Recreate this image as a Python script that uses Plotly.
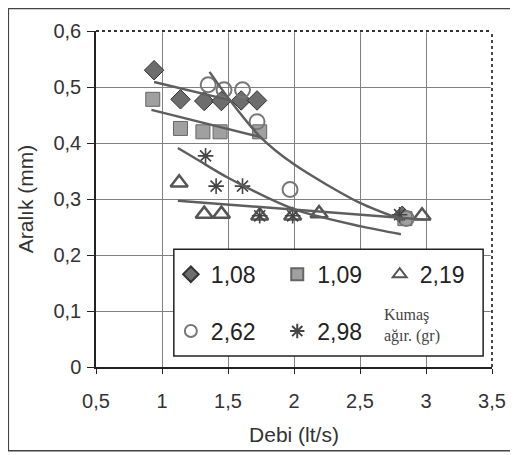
import plotly.graph_objects as go

# ---- data ----
x_108 = [0.94, 1.14, 1.32, 1.45, 1.60, 1.72, 2.82]
y_108 = [0.530, 0.478, 0.475, 0.475, 0.476, 0.476, 0.270]

x_109 = [0.93, 1.14, 1.31, 1.44, 1.74, 2.84]
y_109 = [0.478, 0.426, 0.420, 0.420, 0.420, 0.265]

x_219 = [1.13, 1.32, 1.45, 1.74, 1.99, 2.19, 2.97]
y_219 = [0.329, 0.273, 0.273, 0.270, 0.270, 0.274, 0.270]

x_262 = [1.35, 1.47, 1.61, 1.72, 1.97, 2.85]
y_262 = [0.504, 0.495, 0.495, 0.438, 0.317, 0.265]

x_298 = [1.33, 1.41, 1.61, 1.74, 1.99, 2.80]
y_298 = [0.377, 0.323, 0.323, 0.270, 0.270, 0.272]

# trend lines
t108_x = [0.94, 1.52]
t108_y = [0.509, 0.476]
t109_x = [0.92, 1.74]
t109_y = [0.459, 0.411]
t219_x = [1.12, 3.00]
t219_y = [0.297, 0.263]
t262_x = [1.36, 1.51, 1.74, 2.00, 2.50, 2.83]
t262_y = [0.527, 0.478, 0.412, 0.362, 0.293, 0.262]
t298_x = [1.12, 1.27, 1.50, 2.01, 2.51, 2.81]
t298_y = [0.391, 0.370, 0.338, 0.281, 0.251, 0.237]

labels = ["1,08", "1,09", "2,19", "2,62", "2,98"]
legend_note = "Kumaş<br>ağır. (gr)"

x_ticks = [0.5, 1, 1.5, 2, 2.5, 3, 3.5]
y_ticks = [0, 0.1, 0.2, 0.3, 0.4, 0.5, 0.6]

fig = go.Figure()

marker_styles = [
    dict(symbol="diamond", size=15, color="#6d6d6d", line=dict(color="#333333", width=1)),
    dict(symbol="square", size=14, color="#a0a0a0", line=dict(color="#666666", width=1)),
    dict(symbol="triangle-up-open", size=15, color="#555555", line=dict(color="#555555", width=2.5)),
    dict(symbol="circle-open", size=15, color="#777777", line=dict(color="#777777", width=2)),
    dict(symbol="asterisk-open", size=13, color="#444444", line=dict(color="#444444", width=1.6)),
]
series = [(x_108, y_108), (x_109, y_109), (x_219, y_219), (x_262, y_262), (x_298, y_298)]
legend_ids = ["legend", "legend2", "legend3", "legend4", "legend5"]

for (xs, ys), lab, ms, lg in zip(series, labels, marker_styles, legend_ids):
    fig.add_trace(go.Scatter(x=xs, y=ys, mode="markers", name=lab,
                             marker=ms, legend=lg, showlegend=True))

for tx, ty in [(t108_x, t108_y), (t109_x, t109_y), (t219_x, t219_y),
               (t262_x, t262_y), (t298_x, t298_y)]:
    fig.add_trace(go.Scatter(x=tx, y=ty, mode="lines", showlegend=False,
                             line=dict(color="#5e5e5e", width=2.4, shape="spline", smoothing=0.8),
                             hoverinfo="skip"))

# page has an 8px body margin: the figure is drawn 8px in from the window edge
OFF = 8
W, H = 518 - OFF, 455 - OFF
# plot area in window pixels: x 96..498, y 31..368
PL, PR, PT, PB = 96, 498, 31, 368
ml, mt = PL - OFF, PT - OFF
mr = W - (PR - OFF)
mb = H - (PB - OFF)
pw, ph = PR - PL, PB - PT

def px_x(p):
    return (p - PL) / pw

def px_y(p):
    return (PB - p) / ph

leg_font = dict(family="Liberation Sans, Arial, sans-serif", size=23, color="#222222")
leg_common = dict(bgcolor="rgba(0,0,0,0)", borderwidth=0, font=leg_font,
                  itemsizing="constant", xanchor="left", yanchor="middle")
legend_pos = [(172, 275), (280, 275), (384, 275), (172, 332), (280, 332)]
leg_layout = {}
for lg, (lx, ly) in zip(legend_ids, legend_pos):
    leg_layout[lg] = dict(x=px_x(lx), y=px_y(ly), **leg_common)

shapes = [
    # outer frame (right side runs off the page)
    dict(type="rect", xref="paper", yref="paper",
         x0=px_x(7), x1=px_x(540), y0=px_y(452), y1=px_y(8.5),
         line=dict(color="#444444", width=1.5), fillcolor="rgba(0,0,0,0)", layer="above"),
    # top / right borders (dotted)
    dict(type="line", xref="paper", yref="paper", x0=0, x1=1, y0=1, y1=1,
         line=dict(color="white", width=2.5), layer="above"),
    dict(type="line", xref="paper", yref="paper", x0=1, x1=1, y0=0, y1=1,
         line=dict(color="white", width=2.5), layer="above"),
    dict(type="line", xref="paper", yref="paper", x0=0, x1=1, y0=1, y1=1,
         line=dict(color="#333333", width=1.8, dash="dot"), layer="above"),
    dict(type="line", xref="paper", yref="paper", x0=1, x1=1, y0=0, y1=1,
         line=dict(color="#333333", width=1.8, dash="dot"), layer="above"),
    # legend box
    dict(type="rect", xref="paper", yref="paper",
         x0=px_x(175), x1=px_x(489), y0=px_y(357), y1=px_y(250),
         line=dict(color="#222222", width=1.5), fillcolor="white", layer="above"),
]

annotations = [
    dict(text=legend_note, xref="paper", yref="paper", x=px_x(386), y=px_y(326),
         xanchor="left", yanchor="middle", showarrow=False, align="left",
         font=dict(family="Liberation Serif, Times New Roman, serif", size=16, color="#444444")),
]

tick_font = dict(family="Liberation Sans, Arial, sans-serif", size=20, color="#333333")
title_font = dict(family="Liberation Sans, Arial, sans-serif", size=21, color="#333333")

fig.update_layout(
    width=W, height=H,
    margin=dict(l=ml, r=mr, t=mt, b=mb, pad=0),
    paper_bgcolor="white", plot_bgcolor="white",
    separators=",.",
    shapes=shapes, annotations=annotations,
    xaxis=dict(range=[0.5, 3.5], tickvals=x_ticks, tickfont=tick_font,
               showgrid=True, gridcolor="#808080", gridwidth=1,
               showline=True, linecolor="#222222", linewidth=1.5,
               ticks="outside", ticklen=5, tickcolor="#222222", ticklabelstandoff=10,
               zeroline=False, title=dict(text="Debi (lt/s)", font=title_font, standoff=17)),
    yaxis=dict(range=[0, 0.6], tickvals=y_ticks, tickfont=tick_font,
               showgrid=True, gridcolor="#808080", gridwidth=1,
               showline=True, linecolor="#222222", linewidth=1.5,
               ticks="outside", ticklen=7, tickcolor="#222222", ticklabelstandoff=2,
               zeroline=False, title=dict(text="Aralık (mm)", font=title_font, standoff=14)),
    **leg_layout,
)

fig.write_html("out.html")
